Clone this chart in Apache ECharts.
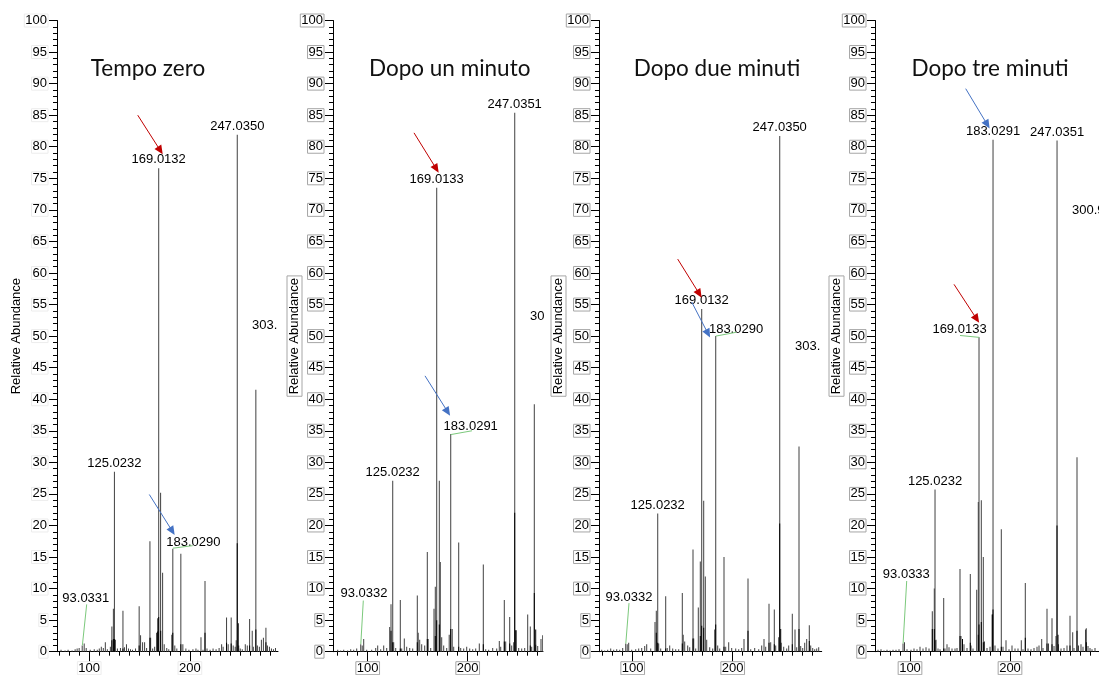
<!DOCTYPE html>
<html><head><meta charset="utf-8">
<script src="https://cdn.jsdelivr.net/npm/echarts@6/dist/echarts.min.js"></script>
<style>html,body{margin:0;padding:0;background:#fff;}#c{width:1099px;height:675px;}</style>
</head><body><div id="c"></div>
<script>
// ---------------- DATA ----------------
const panelTitles = ['Tempo zero', 'Dopo un minuto', 'Dopo due minuti', 'Dopo tre minuti'];
const yAxisName = 'Relative Abundance';
const xTickLabels = [100, 200];
const xMinorTicks = [70, 80, 90, 100, 110, 120, 130, 140, 150, 160, 170, 180, 190, 200, 210, 220, 230, 240, 250, 260, 270, 280, 290, 300];
const clippedLabels = ['303.', '30', '303.', '300.9'];

// Panel 1: Tempo zero  [m/z, relative abundance]
const peaks1 = [[72,0.3],[76,0.2],[79,0.3],[83,0.2],[86,0.4],[88,0.5],[90,0.6],[93.0331,1.0],[95,1.3],[97,0.6],[101,0.3],[105,0.4],[108,0.3],[110,0.5],[112,0.8],[114,0.6],[116,1.5],[118,0.4],[121,0.8],[122.5,4.0],[124,6.8],[125.0232,28.5],[126,1.9],[128,0.5],[131,0.6],[133.5,6.5],[135,0.7],[137,1.2],[139,0.5],[141,0.4],[143,0.3],[146,0.5],[149.6,7.2],[151,2.6],[153,1.5],[155,1.5],[157,0.6],[160.3,17.5],[161,2.2],[163,0.5],[165,0.8],[166.9,3.0],[168,5.3],[169.0132,76.6],[170.9,25.2],[172.9,12.5],[174.5,1.2],[177,0.6],[179,0.4],[182,2.7],[183.0290,16.3],[185,1.0],[187,0.5],[191,15.5],[193,1.2],[196,0.5],[199,0.3],[203,0.4],[206,0.5],[208,0.3],[211,2.3],[213,0.3],[215,11.2],[217,0.5],[220,0.3],[223,0.5],[226,0.4],[229,0.6],[231.5,1.2],[233,0.8],[236.4,5.4],[238,1.2],[241,5.4],[243,1.0],[245,0.8],[246,1.8],[247.0350,81.9],[248.5,1.0],[250,0.5],[252,0.4],[255,1.2],[257,1.0],[259.3,5.2],[261.9,3.3],[263,0.8],[265.5,41.5],[267,1.0],[269,0.8],[271,1.9],[273,2.2],[275.5,3.8],[277,1.0],[279,0.8],[281,0.5],[283,0.4],[285,0.6]];
const overlay1 = [[122.5,1.8],[124,2.0],[125,2.0],[133.5,0.5],[149.6,1.0],[160.3,2.2],[168,3.2],[169,5.5],[171,3.3],[183,3.0],[191,1.2],[215,3.0],[236.4,1.4],[241,1.3],[247,17.2],[248,4.5],[259.3,1.0],[265.5,3.5],[275.5,1.5]];
const labeled1 = [93.0331, 125.0232, 169.0132, 183.0290, 247.0350];

// Panel 2: Dopo un minuto
const peaks2 = [[70,0.3],[73,0.2],[76,0.3],[80,0.2],[83,0.4],[86,0.3],[89,0.5],[93.0332,1.2],[94.5,1.0],[96,2.0],[99,0.3],[104,0.3],[108,0.6],[110,1.0],[113,0.4],[116,1.0],[119,0.6],[122,3.9],[123.3,7.5],[125.0232,27.1],[126,1.5],[128,0.6],[132.6,8.2],[134,0.5],[136.6,2.1],[139,0.8],[142,0.6],[145,0.5],[149.6,8.9],[150.5,3.0],[152,1.9],[154,1.2],[157,1.0],[159.6,15.8],[160.5,2.0],[163,0.6],[166.3,6.8],[167.6,10.3],[169.0133,73.5],[171.6,27.1],[172.6,14.2],[174,2.3],[176,1.0],[179,0.6],[181.5,2.7],[183.0291,34.5],[184.5,3.6],[186,0.8],[191,17.3],[193,0.6],[196,0.5],[199,0.8],[202,0.5],[205,0.4],[208,0.5],[211.6,1.3],[215.6,13.8],[218,0.4],[221,0.3],[225,0.6],[229,0.5],[231.6,1.7],[233,0.8],[236.6,8.2],[238,1.6],[242,5.5],[244,1.0],[246,1.5],[247.0351,85.4],[248.5,3.4],[251,0.6],[254,0.5],[257,0.6],[260,5.9],[262.6,4.0],[264,0.8],[266.6,39.2],[268,1.1],[270,0.9],[273.3,2.0],[275,2.6]];
const overlay2 = [[123.3,3.3],[125,1.5],[132.6,0.5],[149.6,1.5],[159.6,2.0],[167.6,2.5],[169,5.0],[171.6,4.3],[183,3.6],[191,0.8],[215.6,1.2],[236.6,1.6],[242,1.3],[247,22.0],[248,3.4],[262.6,1.0],[266.6,9.3],[268,3.5]];
const labeled2 = [93.0332, 125.0232, 169.0133, 183.0291, 247.0351];

// Panel 3: Dopo due minuti
const peaks3 = [[69,0.3],[72,0.2],[75,0.3],[78,0.5],[81,0.3],[84,0.4],[87,0.3],[90,0.6],[93.0332,1.3],[94.5,1.2],[96,1.4],[99,0.3],[103,0.4],[106,0.5],[109,0.6],[112,0.9],[114,1.2],[118,0.5],[122.3,4.7],[123.6,6.5],[125.0232,21.9],[126,1.3],[128,0.5],[133,8.8],[134.5,0.6],[137,1.0],[140,0.5],[143,0.4],[146,0.4],[149.6,9.3],[150.5,2.7],[152,1.6],[155,1.0],[157,0.7],[160.3,16.2],[161,2.1],[163,0.5],[165.6,7.0],[167.6,14.3],[169.0132,54.3],[171,23.9],[172.6,11.9],[174,1.9],[177,0.7],[180,0.5],[182,3.5],[183.0290,50.0],[185,1.0],[187,0.5],[191.3,15.0],[193,0.8],[196,1.5],[199,0.6],[203,0.5],[206,0.4],[209,0.6],[211.3,2.0],[215.3,11.6],[218,0.4],[222,0.6],[226,0.4],[229,1.0],[231.3,2.0],[233,0.8],[236.3,7.6],[238,1.5],[241.6,6.7],[243,1.0],[246,2.3],[247.0350,81.7],[248.5,1.4],[251,0.8],[254,0.5],[256,1.0],[259.6,6.0],[262.3,3.5],[264,0.7],[266.3,32.5],[268,0.9],[270,0.6],[272,1.4],[274,2.0],[276.6,4.2],[278,1.0],[280,0.6],[282,0.4],[284,0.5],[286,0.7]];
const overlay3 = [[123.6,3.0],[125,1.4],[133,0.5],[149.6,1.3],[160.3,2.1],[167.6,2.5],[169,4.1],[171,3.8],[183,4.3],[191.3,0.8],[215.3,3.3],[236.3,1.4],[241.6,1.2],[247,20.3],[248,3.6],[259.6,1.2],[266.3,3.6],[276.6,1.7]];
const labeled3 = [93.0332, 125.0232, 169.0132, 183.0290, 247.0350];

// Panel 4: Dopo tre minuti
const peaks4 = [[68,0.3],[71,0.4],[74,0.2],[77,0.3],[80,0.2],[83,0.3],[86,0.3],[89,0.4],[93.0333,1.3],[94.5,1.5],[97,0.4],[101,0.3],[104,0.5],[107,0.4],[110,0.8],[113,0.5],[116,0.7],[119,0.5],[122.3,6.4],[124.3,10.0],[125.0232,25.7],[126,1.9],[128,0.5],[130,0.4],[133.7,8.5],[135,0.5],[137,1.2],[139,0.7],[142,0.5],[145,0.5],[147,0.6],[150,13.1],[151,2.5],[152.5,2.0],[154,1.2],[157,0.6],[160.3,12.3],[161,1.0],[163,0.5],[166.7,9.8],[168.3,23.7],[169.0133,49.8],[171.3,24.0],[173.3,15.0],[174.5,1.6],[177,0.6],[180,0.8],[182.3,5.9],[183.0291,81.1],[185,1.0],[188,0.5],[191.3,19.4],[193,0.8],[196,1.8],[199,0.4],[202,1.0],[205,0.5],[208,0.5],[211.3,1.8],[213,0.4],[215.3,10.9],[218,0.5],[221,0.4],[224,0.6],[227,0.8],[229,1.0],[231.7,2.0],[233,0.6],[237,6.8],[238.5,1.3],[242,5.3],[244,0.9],[246,2.5],[247.0351,81.0],[248.5,1.2],[251,0.5],[254,0.6],[257,1.0],[260,5.7],[262.7,3.1],[264,0.6],[267,30.8],[268.5,1.0],[271,1.2],[273,0.8],[275.5,3.5],[276.3,3.7],[278,0.9],[280,0.6],[282,0.4],[285,0.6],[300.9,68.5]];
const overlay4 = [[122.3,3.6],[124.3,3.6],[125,1.8],[133.7,0.5],[150,2.5],[152.5,2.0],[160.3,1.4],[168.3,2.7],[169,4.3],[171.3,4.7],[173.3,1.5],[182.3,5.9],[183,6.7],[191.3,0.8],[215.3,2.2],[237,1.3],[242,1.2],[247,20.0],[248,2.7],[260,1.0],[267,3.3],[276.3,1.5]];
const labeled4 = [93.0333, 125.0232, 169.0133, 183.0291, 247.0351];

// ---------------- LAYOUT / ANNOTATIONS ----------------
const panels = [
  {peaks: peaks1, overlay: overlay1, labeled: labeled1},
  {peaks: peaks2, overlay: overlay2, labeled: labeled2},
  {peaks: peaks3, overlay: overlay3, labeled: labeled3},
  {peaks: peaks4, overlay: overlay4, labeled: labeled4}
];
const RED = '#c00000', BLUE = '#4472c4', GREEN = '#7cc97c';
const layout = [
  {left: 57, width: 221, xMin: 68, xMax: 287.5, nameGap: 34, box: '#ececec', nameBox: null,
   title: [148, 69], clip: [252, 325],
   offsets: {93.0331: [3.6, -38], 183.0290: [20.5, 1.7]},
   arrows: [[[148.2, 85.0], [170.6, 79.4], RED], [[159.7, 24.9], [182.5, 19.1], BLUE]],
   leaders: [[[97.5, 7.5], [93.2, 1.0]], [[183.2, 16.4], [202.8, 16.8]]]},
  {left: 333, width: 210, xMin: 65.3, xMax: 275.3, nameGap: 31, box: '#a6a6a6', nameBox: '#a6a6a6',
   title: [449.7, 69], clip: [530, 316],
   offsets: {93.0332: [3.3, -42], 183.0291: [20, 1.3]},
   arrows: [[[146.3, 82.2], [168.6, 76.5], RED], [[157.3, 43.7], [180, 38.0], BLUE]],
   leaders: [[[95.6, 8.1], [93.1, 1.2]], [[183.1, 34.4], [204.3, 35.0]]]},
  {left: 599, width: 222.7, xMin: 66.3, xMax: 289, nameGap: 33, box: '#a6a6a6', nameBox: '#a6a6a6',
   title: [717, 69], clip: [795, 346],
   offsets: {93.0332: [3.3, -37.2], 183.0290: [20.3, 1.9]},
   arrows: [[[145, 62.2], [166.6, 56.7], RED], [[159, 55.4], [175.3, 50.4], BLUE]],
   leaders: [[[96.3, 7.7], [93.1, 1.3]], [[183.1, 50.0], [203.3, 50.6]]]},
  {left: 875, width: 240, xMin: 65, xMax: 305, nameGap: 31, box: '#a6a6a6', nameBox: '#a6a6a6',
   title: [990, 69], clip: [1072, 210],
   offsets: {93.0333: [3.3, -60.2], 169.0133: [-19.5, 0.7]},
   arrows: [[[155.7, 89.2], [177.3, 83.5], BLUE], [[144, 58.2], [166.7, 52.7], RED]],
   leaders: [[[96.7, 11.2], [93.1, 1.3]], [[150, 50.1], [169.2, 49.8]]]}
];
const GRID_TOP = 20.5, GRID_H = 631.2;
const NUM_FONT = 'Liberation Sans, Arial, sans-serif';

const grids = [], xAxes = [], yAxes = [], series = [], graphics = [];
panels.forEach((p, i) => {
  const L = layout[i];
  grids.push({left: L.left, top: GRID_TOP, width: L.width, height: GRID_H, containLabel: false, outerBoundsMode: 'none'});
  const boxStyle = {borderColor: L.box, borderWidth: 1, padding: [0, 1, 0, 1], lineHeight: 13};
  xAxes.push({
    type: 'value', gridIndex: i, min: L.xMin, max: L.xMax, position: 'bottom',
    axisLine: {show: true, onZero: false, lineStyle: {color: '#000', width: 1}},
    axisTick: {show: true, customValues: xMinorTicks, length: 4, lineStyle: {color: '#000'}},
    axisLabel: {show: false}, splitLine: {show: false}
  });
  xAxes.push({
    type: 'value', gridIndex: i, min: L.xMin, max: L.xMax, position: 'bottom', offset: 0,
    axisLine: {show: false, onZero: false},
    axisTick: {show: true, customValues: xTickLabels, length: 10, lineStyle: {color: '#000'}},
    axisLabel: Object.assign({show: true, customValues: xTickLabels, margin: 10, fontSize: 13,
      fontFamily: NUM_FONT, color: '#000'}, boxStyle),
    splitLine: {show: false}
  });
  yAxes.push({
    type: 'value', gridIndex: i, min: 0, max: 100, interval: 5,
    axisLine: {show: true, onZero: false, lineStyle: {color: '#000', width: 1}},
    axisTick: {show: true, length: 8, lineStyle: {color: '#000'}},
    minorTick: {show: true, splitNumber: 5, length: 4, lineStyle: {color: '#000'}},
    splitLine: {show: false},
    axisLabel: Object.assign({fontSize: 13, fontFamily: NUM_FONT, color: '#000', margin: 9}, boxStyle),
    name: yAxisName, nameLocation: 'middle', nameGap: L.nameGap, nameMoveOverlap: false,
    nameTextStyle: L.nameBox
      ? {fontSize: 13, fontFamily: NUM_FONT, color: '#000', borderColor: L.nameBox, borderWidth: 1, padding: [1, 2, 1, 2]}
      : {fontSize: 13, fontFamily: NUM_FONT, color: '#000'}
  });
  const data = p.peaks.map(pt => {
    const lab = p.labeled.find(v => Math.abs(v - pt[0]) < 1e-6);
    if (lab === undefined) return pt;
    return {value: pt, label: {show: true, offset: L.offsets[lab] || [0, 0]}};
  });
  const markData = [];
  L.arrows.forEach(a => markData.push([
    {coord: a[0], symbol: 'none', lineStyle: {color: a[2], width: 1, type: 'solid'}},
    {coord: a[1], symbol: 'triangle', symbolSize: [8, 9], itemStyle: {color: a[2]}}
  ]));
  L.leaders.forEach(a => markData.push([
    {coord: a[0], symbol: 'none', lineStyle: {color: GREEN, width: 1, type: 'solid'}},
    {coord: a[1], symbol: 'none'}
  ]));
  series.push({
    type: 'bar', xAxisIndex: 2 * i, yAxisIndex: i, data: data,
    barWidth: 1, barGap: '-100%', silent: true, animation: false,
    itemStyle: {color: '#404040'},
    label: {show: false, position: 'top', distance: 2, fontSize: 13, fontFamily: NUM_FONT, color: '#000',
      formatter: prm => prm.value[0].toFixed(4)},
    markLine: {silent: true, animation: false, symbol: ['none', 'triangle'], label: {show: false},
      lineStyle: {type: 'solid'}, data: markData}
  });
  series.push({
    type: 'bar', xAxisIndex: 2 * i, yAxisIndex: i, data: p.overlay,
    barWidth: 1, barGap: '-100%', silent: true, animation: false,
    itemStyle: {color: '#000'}
  });
  graphics.push({type: 'text', x: L.title[0], y: L.title[1], silent: true,
    style: {text: panelTitles[i], font: '22.5px Lato, "Open Sans", sans-serif', fill: '#111',
      textAlign: 'center', textVerticalAlign: 'middle'}});
  graphics.push({type: 'text', x: L.clip[0], y: L.clip[1], silent: true,
    style: {text: clippedLabels[i], font: '13px ' + NUM_FONT, fill: '#000',
      textAlign: 'left', textVerticalAlign: 'middle'}});
});

const chart = echarts.init(document.getElementById('c'), null, {renderer: 'canvas'});
chart.setOption({
  animation: false,
  backgroundColor: '#fff',
  grid: grids, xAxis: xAxes, yAxis: yAxes, series: series, graphic: graphics
});
</script>
</body></html>
